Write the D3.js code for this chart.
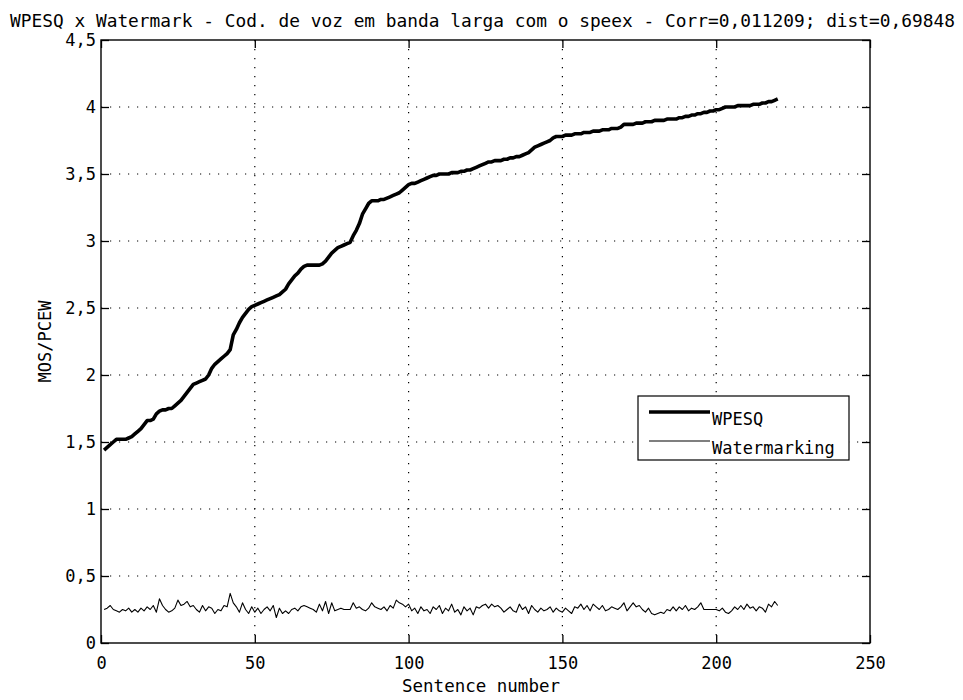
<!DOCTYPE html>
<html>
<head>
<meta charset="utf-8">
<script src="https://cdn.jsdelivr.net/npm/d3@7"></script>
<style>
  html, body { margin: 0; padding: 0; background: #fff; }
  svg { display: block; }
  text { font-family: "DejaVu Sans Mono", "Liberation Mono", monospace; fill: #000; }
</style>
</head>
<body>
<svg id="chart" width="963" height="700"></svg>
<script>
// Chart text
const titleText = "WPESQ x Watermark - Cod. de voz em banda larga com o speex - Corr=0,011209; dist=0,69848";
const xLabel = "Sentence number";
const yLabel = "MOS/PCEW";
const seriesNames = ["WPESQ", "Watermarking"];

// Axis ticks
const xTicks = [0, 50, 100, 150, 200, 250];
const yTicks = [0, 0.5, 1, 1.5, 2, 2.5, 3, 3.5, 4, 4.5];

// WPESQ score per sentence (sentences 1..220, sorted)
const wpesq = [
  1.44, 1.46, 1.48, 1.50, 1.52, 1.52, 1.52, 1.52, 1.53, 1.54,
  1.56, 1.58, 1.60, 1.63, 1.66, 1.66, 1.67, 1.71, 1.73, 1.74,
  1.74, 1.75, 1.75, 1.77, 1.79, 1.81, 1.84, 1.87, 1.90, 1.93,
  1.94, 1.95, 1.96, 1.97, 2.00, 2.05, 2.08, 2.10, 2.12, 2.14,
  2.16, 2.19, 2.30, 2.34, 2.39, 2.43, 2.46, 2.49, 2.51, 2.52,
  2.53, 2.54, 2.55, 2.56, 2.57, 2.58, 2.59, 2.60, 2.62, 2.64,
  2.68, 2.71, 2.74, 2.76, 2.79, 2.81, 2.82, 2.82, 2.82, 2.82,
  2.82, 2.83, 2.85, 2.88, 2.91, 2.93, 2.95, 2.96, 2.97, 2.98,
  2.99, 3.04, 3.08, 3.13, 3.20, 3.24, 3.28, 3.30, 3.30, 3.30,
  3.31, 3.31, 3.32, 3.33, 3.34, 3.35, 3.36, 3.38, 3.40, 3.42,
  3.43, 3.43, 3.44, 3.45, 3.46, 3.47, 3.48, 3.49, 3.49, 3.50,
  3.50, 3.50, 3.50, 3.51, 3.51, 3.51, 3.52, 3.52, 3.53, 3.53,
  3.54, 3.55, 3.56, 3.57, 3.58, 3.59, 3.59, 3.60, 3.60, 3.60,
  3.61, 3.61, 3.62, 3.62, 3.63, 3.63, 3.64, 3.65, 3.66, 3.68,
  3.70, 3.71, 3.72, 3.73, 3.74, 3.75, 3.77, 3.78, 3.78, 3.78,
  3.79, 3.79, 3.79, 3.80, 3.80, 3.80, 3.81, 3.81, 3.81, 3.82,
  3.82, 3.82, 3.83, 3.83, 3.83, 3.84, 3.84, 3.84, 3.85, 3.87,
  3.87, 3.87, 3.87, 3.88, 3.88, 3.88, 3.89, 3.89, 3.89, 3.90,
  3.90, 3.90, 3.90, 3.91, 3.91, 3.91, 3.91, 3.92, 3.92, 3.93,
  3.93, 3.94, 3.94, 3.95, 3.95, 3.96, 3.96, 3.97, 3.97, 3.98,
  3.98, 3.99, 4.00, 4.00, 4.00, 4.00, 4.01, 4.01, 4.01, 4.01,
  4.01, 4.02, 4.02, 4.02, 4.03, 4.03, 4.04, 4.04, 4.05, 4.06
];

// Watermark-based quality estimate per sentence (same order)
const watermarking = [
  0.25, 0.26, 0.28, 0.25, 0.24, 0.23, 0.25, 0.24, 0.26, 0.23,
  0.25, 0.23, 0.26, 0.24, 0.27, 0.25, 0.28, 0.23, 0.33, 0.28,
  0.25, 0.23, 0.24, 0.26, 0.32, 0.28, 0.29, 0.31, 0.27, 0.28,
  0.25, 0.23, 0.28, 0.24, 0.27, 0.26, 0.22, 0.25, 0.24, 0.28,
  0.27, 0.37, 0.30, 0.27, 0.23, 0.30, 0.25, 0.22, 0.27, 0.23,
  0.26, 0.22, 0.25, 0.27, 0.24, 0.28, 0.19, 0.26, 0.22, 0.24,
  0.22, 0.25, 0.26, 0.24, 0.27, 0.28, 0.27, 0.26, 0.25, 0.23,
  0.29, 0.24, 0.31, 0.22, 0.30, 0.24, 0.25, 0.26, 0.25, 0.25,
  0.25, 0.30, 0.26, 0.27, 0.25, 0.24, 0.26, 0.30, 0.27, 0.26,
  0.25, 0.27, 0.24, 0.28, 0.26, 0.32, 0.30, 0.29, 0.27, 0.29,
  0.24, 0.26, 0.22, 0.27, 0.24, 0.25, 0.22, 0.27, 0.25, 0.28,
  0.22, 0.26, 0.24, 0.29, 0.23, 0.25, 0.21, 0.27, 0.24, 0.26,
  0.21, 0.27, 0.26, 0.28, 0.29, 0.26, 0.29, 0.27, 0.28, 0.26,
  0.23, 0.25, 0.27, 0.24, 0.23, 0.29, 0.25, 0.27, 0.22, 0.28,
  0.25, 0.23, 0.26, 0.24, 0.25, 0.27, 0.23, 0.26, 0.24, 0.23,
  0.26, 0.24, 0.22, 0.27, 0.26, 0.29, 0.25, 0.28, 0.24, 0.29,
  0.27, 0.25, 0.28, 0.24, 0.25, 0.27, 0.26, 0.25, 0.27, 0.30,
  0.24, 0.27, 0.30, 0.27, 0.28, 0.25, 0.23, 0.26, 0.22, 0.21,
  0.22, 0.23, 0.22, 0.25, 0.24, 0.27, 0.24, 0.27, 0.25, 0.28,
  0.24, 0.26, 0.25, 0.27, 0.30, 0.25, 0.25, 0.25, 0.25, 0.25,
  0.24, 0.26, 0.23, 0.22, 0.24, 0.27, 0.25, 0.28, 0.25, 0.29,
  0.26, 0.27, 0.24, 0.27, 0.26, 0.23, 0.29, 0.27, 0.31, 0.28
];

const svg = d3.select("#chart");
const plot = { left: 101, right: 870, top: 40, bottom: 643 };
const tickLen = 8;
const fontSize = 17;

const x = d3.scaleLinear().domain([0, 250]).range([plot.left, plot.right]);
const y = d3.scaleLinear().domain([0, 4.5]).range([plot.bottom, plot.top]);
const fmt = d => String(d).replace(".", ",");

// Dotted grid
const grid = svg.append("g").attr("stroke", "#000").attr("stroke-width", 1.2)
  .attr("stroke-dasharray", "1.2,7.8");
grid.selectAll(".gx").data(xTicks.slice(1, -1)).join("line")
  .attr("x1", d => x(d)).attr("x2", d => x(d))
  .attr("y1", plot.top).attr("y2", plot.bottom);
grid.selectAll(".gy").data(yTicks.slice(1, -1)).join("line")
  .attr("x1", plot.left).attr("x2", plot.right)
  .attr("y1", d => y(d)).attr("y2", d => y(d));

// Axes with inward ticks on all four sides
const axisStyle = g => {
  g.select(".domain").remove();
  g.selectAll(".tick line").attr("stroke", "#000").attr("stroke-width", 1.3);
  g.selectAll(".tick text").attr("font-size", fontSize)
    .attr("font-family", "DejaVu Sans Mono, monospace").attr("fill", "#000");
};
svg.append("g").attr("transform", `translate(0,${plot.bottom})`)
  .call(d3.axisBottom(x).tickValues(xTicks).tickSize(-tickLen).tickPadding(10).tickFormat(d => d))
  .call(axisStyle)
  .call(g => g.selectAll(".tick text").attr("dy", "0.95em"));
svg.append("g").attr("transform", `translate(0,${plot.top})`)
  .call(d3.axisTop(x).tickValues(xTicks).tickSize(-tickLen).tickFormat(""))
  .call(axisStyle);
svg.append("g").attr("transform", `translate(${plot.left},0)`)
  .call(d3.axisLeft(y).tickValues(yTicks).tickSize(-tickLen).tickPadding(5).tickFormat(fmt))
  .call(axisStyle);
svg.append("g").attr("transform", `translate(${plot.right},0)`)
  .call(d3.axisRight(y).tickValues(yTicks).tickSize(-tickLen).tickFormat(""))
  .call(axisStyle);

// Plot frame
svg.append("rect")
  .attr("x", plot.left).attr("y", plot.top)
  .attr("width", plot.right - plot.left).attr("height", plot.bottom - plot.top)
  .attr("fill", "none").attr("stroke", "#000").attr("stroke-width", 1.4);

// Series lines
const line = d3.line().x((d, i) => x(i + 1)).y(d => y(d));
svg.append("path").datum(watermarking)
  .attr("d", line).attr("fill", "none").attr("stroke", "#000")
  .attr("stroke-width", 1.1).attr("stroke-linejoin", "round");
svg.append("path").datum(wpesq)
  .attr("d", line).attr("fill", "none").attr("stroke", "#000")
  .attr("stroke-width", 3.6).attr("stroke-linejoin", "round");

// Title and axis labels
svg.append("text").attr("x", 482.5).attr("y", 27)
  .attr("text-anchor", "middle").attr("font-size", fontSize)
  .attr("textLength", 945).attr("lengthAdjust", "spacingAndGlyphs")
  .text(titleText);
svg.append("text").attr("x", 481).attr("y", 692)
  .attr("text-anchor", "middle").attr("font-size", fontSize)
  .attr("textLength", 158).attr("lengthAdjust", "spacingAndGlyphs")
  .text(xLabel);
svg.append("text")
  .attr("transform", `translate(51,${(plot.top + plot.bottom) / 2}) rotate(-90)`)
  .attr("text-anchor", "middle").attr("font-size", fontSize)
  .text(yLabel);

// Legend
const legend = svg.append("g");
legend.append("rect").attr("x", 638).attr("y", 396).attr("width", 211).attr("height", 64)
  .attr("fill", "#fff").attr("stroke", "#000").attr("stroke-width", 1.2);
const legendRows = [
  { name: seriesNames[0], width: 3.6, ly: 412 },
  { name: seriesNames[1], width: 1.1, ly: 441 }
];
legendRows.forEach(r => {
  legend.append("line").attr("x1", 649).attr("x2", 710)
    .attr("y1", r.ly).attr("y2", r.ly)
    .attr("stroke", "#000").attr("stroke-width", r.width);
  legend.append("text").attr("x", 712).attr("y", r.ly + 12.5)
    .attr("font-size", fontSize).text(r.name);
});
</script>
</body>
</html>
